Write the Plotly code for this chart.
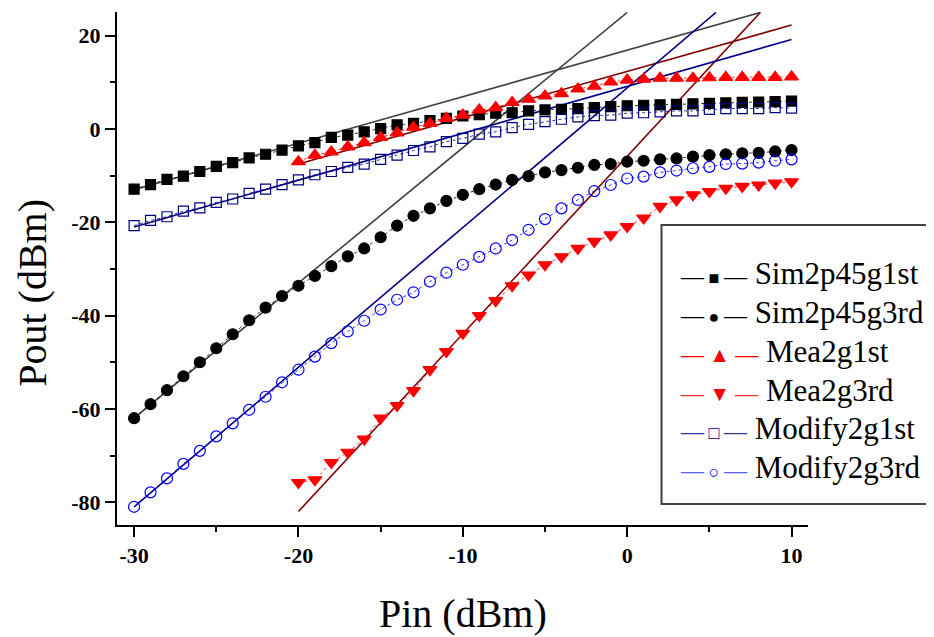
import plotly.graph_objects as go

# ---------------- data ----------------
pin_full = list(range(-30, 11))          # -30 .. 10 dBm
pin_mea = list(range(-20, 11))           # -20 .. 10 dBm

sim2p45g1st = [-12.9, -11.9, -10.8, -10.1, -9.1, -8.0, -7.2, -6.2, -5.4, -4.5,
               -3.6, -2.9, -1.8, -1.3, -0.6, 0.1, 0.9, 1.2, 1.8, 2.3,
               2.8, 3.1, 3.4, 3.5, 3.9, 4.1, 4.2, 4.4, 4.6, 4.8,
               5.0, 5.1, 5.2, 5.3, 5.4, 5.5, 5.6, 5.7, 5.8, 5.9, 6.0]
sim2p45g3rd = [-62.0, -59.0, -56.0, -53.0, -50.0, -47.0, -44.0, -41.0, -38.3, -35.8,
               -33.6, -31.5, -29.4, -27.3, -25.6, -23.2, -20.7, -18.6, -17.0, -15.4,
               -14.1, -12.9, -11.9, -10.9, -10.1, -9.3, -8.8, -8.3, -7.7, -7.5,
               -7.0, -6.8, -6.5, -6.3, -5.9, -5.6, -5.4, -5.2, -5.1, -4.8, -4.5]
mea2g1st = [-7.0, -5.6, -4.9, -3.8, -2.9, -1.8, -0.8, 0.4, 1.2, 2.3,
            3.0, 4.1, 4.6, 5.7, 6.4, 7.1, 7.6, 8.6, 9.2, 10.1,
            10.5, 10.7, 10.9, 10.9, 10.9, 11.0, 11.1, 11.1, 11.1, 11.1, 11.2]
mea2g3rd = [-75.8, -75.2, -71.5, -69.3, -66.5, -62.0, -59.3, -56.1, -51.6, -47.7,
            -43.8, -40.0, -36.8, -33.6, -31.3, -29.1, -27.4, -25.6, -24.1, -22.7,
            -20.9, -19.1, -16.6, -15.2, -14.1, -13.4, -12.7, -12.3, -12.0, -11.6, -11.3]
modify2g1st = [-20.7, -19.6, -18.8, -17.6, -16.9, -15.7, -15.0, -13.8, -12.9, -11.9,
               -10.9, -9.8, -9.1, -8.2, -7.5, -6.5, -5.6, -4.6, -3.8, -2.7,
               -2.0, -1.1, -0.6, 0.3, 1.0, 1.6, 2.1, 2.6, 2.9, 3.0,
               3.4, 3.5, 3.7, 3.9, 3.9, 4.2, 4.4, 4.4, 4.4, 4.6, 4.5]
modify2g3rd = [-81.0, -77.9, -74.9, -71.8, -69.0, -65.9, -63.1, -60.2, -57.4, -54.3,
               -51.6, -48.8, -45.9, -43.4, -41.1, -38.7, -36.6, -35.0, -32.7, -30.8,
               -29.1, -27.4, -25.6, -23.8, -21.6, -19.3, -17.0, -15.2, -13.3, -12.0,
               -10.6, -10.2, -9.3, -8.9, -8.4, -8.1, -7.5, -7.4, -7.2, -6.8, -6.5]

# extrapolation (fit) lines: start / end points
fit_sim1_x, fit_sim1_y = [-30, 8.1], [-13.0, 25.0]
fit_sim3_x, fit_sim3_y = [-30, 0.0], [-62.0, 25.0]
fit_mea1_x, fit_mea1_y = [-20, 10], [-7.5, 22.3]
fit_mea3_x, fit_mea3_y = [-20, 8.1], [-82.0, 25.0]
fit_mod1_x, fit_mod1_y = [-30, 10], [-21.0, 19.2]
fit_mod3_x, fit_mod3_y = [-30, 5.4], [-81.0, 25.0]

x_ticks = [-30, -20, -10, 0, 10]
x_tick_labels = ["-30", "-20", "-10", "0", "10"]
y_ticks = [-80, -60, -40, -20, 0, 20]
y_tick_labels = ["-80", "-60", "-40", "-20", "0", "20"]

legend_names = ["Sim2p45g1st", "Sim2p45g3rd", "Mea2g1st", "Mea2g3rd",
                "Modify2g1st", "Modify2g3rd"]

# ---------------- figure ----------------
SERIF = "Liberation Serif"
fig = go.Figure()

fits = [
    (fit_sim1_x, fit_sim1_y, "#404040"),
    (fit_sim3_x, fit_sim3_y, "#404040"),
    (fit_mea1_x, fit_mea1_y, "#800000"),
    (fit_mea3_x, fit_mea3_y, "#800000"),
    (fit_mod1_x, fit_mod1_y, "#000080"),
    (fit_mod3_x, fit_mod3_y, "#000080"),
]
for fx, fy, c in fits:
    fig.add_trace(go.Scatter(x=fx, y=fy, mode="lines", line=dict(color=c, width=1.6),
                             showlegend=False, hoverinfo="skip"))

series = [
    (legend_names[0], pin_full, sim2p45g1st, "#000000", "square", 10, "#000000", "\u25A0", 18),
    (legend_names[1], pin_full, sim2p45g3rd, "#000000", "circle", 11, "#000000", "\u25CF", 18),
    (legend_names[2], pin_mea, mea2g1st, "#FF0000", "triangle-up", 12, "#FF0000", "\u25B2", 21),
    (legend_names[3], pin_mea, mea2g3rd, "#FF0000", "triangle-down", 12, "#FF3030", "\u25BC", 21),
    (legend_names[4], pin_full, modify2g1st, "#000080", "square-open", 10, "#3030A0", "\u25A1", 18),
    (legend_names[5], pin_full, modify2g3rd, "#0000FF", "circle-open", 11, "#6060F0", "\u25CB", 18),
]
for name, xs, ys, c, sym, sz, lc, glyph, gsz in series:
    fig.add_trace(go.Scatter(x=xs, y=ys, mode="lines+markers", name=name,
                             line=dict(color=c, width=0.8, dash="dot"),
                             marker=dict(symbol=sym, size=sz, color=c,
                                         line=dict(color=c, width=1.2)),
                             showlegend=False))

fig.update_xaxes(range=[-31.04, 11.0], tickvals=x_ticks,
                 ticktext=["<b>%s</b>" % t for t in x_tick_labels],
                 showline=True, linecolor="black", linewidth=2, mirror=False,
                 showgrid=False, zeroline=False, ticks="outside", ticklen=10,
                 tickwidth=2, tickcolor="black", automargin=False,
                 tickfont=dict(family=SERIF, size=22, color="black"),
                 minor=dict(dtick=5, tick0=0, ticks="outside", ticklen=5,
                            tickwidth=2, tickcolor="black"))
fig.update_yaxes(range=[-84.9, 25.1], tickvals=y_ticks,
                 ticktext=["<b>%s</b>" % t for t in y_tick_labels],
                 showline=True, linecolor="black", linewidth=2, mirror=False,
                 showgrid=False, zeroline=False, ticks="outside", ticklen=10,
                 tickwidth=2, tickcolor="black", automargin=False,
                 tickfont=dict(family=SERIF, size=22, color="black"),
                 minor=dict(dtick=10, tick0=0, ticks="outside", ticklen=5,
                            tickwidth=2, tickcolor="black"))

SPAN = '<span style="font-family:Liberation Serif">%s</span>'

# axis titles (as annotations, serif)
fig.add_annotation(text=SPAN % "Pin (dBm)", xref="paper", yref="paper", x=0.50, y=-0.172,
                   xanchor="center", yanchor="middle", showarrow=False,
                   font=dict(family=SERIF, size=40, color="black"))
fig.add_annotation(text=SPAN % "Pout (dBm)", xref="paper", yref="paper", x=-0.1235, y=0.452,
                   xanchor="center", yanchor="middle", showarrow=False, textangle=-90,
                   font=dict(family=SERIF, size=40, color="black"))

# legend box
fig.add_shape(type="rect", xref="paper", yref="paper",
              x0=0.788, x1=1.25, y0=0.041, y1=0.585,
              line=dict(color="#404040", width=2), fillcolor="white", layer="above")

# legend rows (line - marker - line, then name)
row_y = [0.491, 0.415, 0.339, 0.263, 0.189, 0.113]
for (name, xs, ys, c, sym, sz, lc, glyph, gsz), ry in zip(series, row_y):
    txt = ('<span style="font-size:23px;color:%s">\u2014</span>'
           '<span style="font-size:%dpx;color:%s"> %s </span>'
           '<span style="font-size:23px;color:%s">\u2014</span> '
           '<span style="font-family:Liberation Serif">%s</span>') % (lc, gsz, c, glyph, lc, name)
    fig.add_annotation(text=txt, xref="paper", yref="paper", x=0.812, y=ry,
                       xanchor="left", yanchor="middle", showarrow=False,
                       font=dict(family=SERIF, size=31, color="black"))

fig.update_layout(
    width=934, height=637, autosize=False,
    margin=dict(l=109, r=134, t=4, b=120),
    paper_bgcolor="white", plot_bgcolor="white",
    font=dict(family=SERIF, color="black"),
    showlegend=False,
)

fig.write_html("out.html")
